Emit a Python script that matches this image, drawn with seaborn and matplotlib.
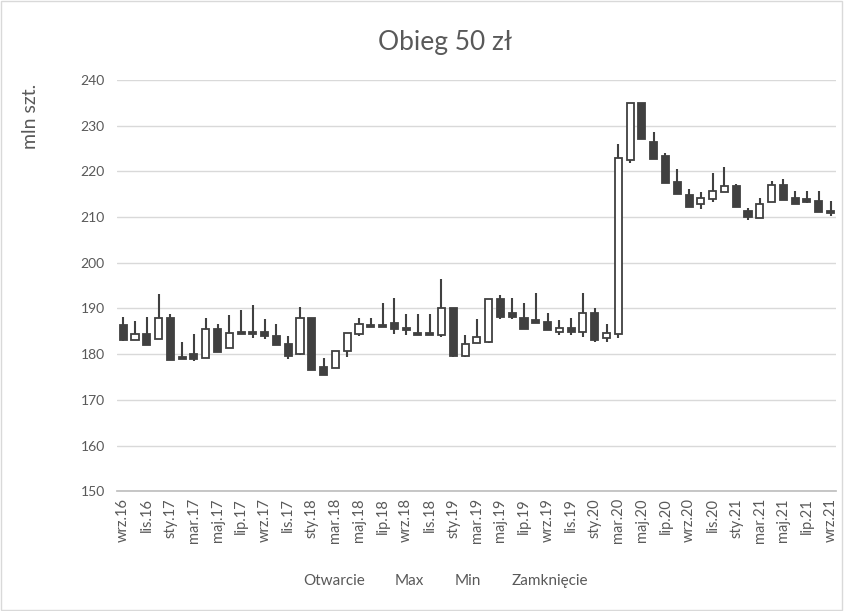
import numpy as np
import pandas as pd
import matplotlib.pyplot as plt
from matplotlib.lines import Line2D
from matplotlib.patches import Rectangle
import seaborn as sns

months = ['sty', 'lut', 'mar', 'kwi', 'maj', 'cze', 'lip', 'sie', 'wrz', 'paź', 'lis', 'gru']
labels = [f"{months[(8 + i) % 12]}.{16 + (8 + i) // 12}" for i in range(61)]

open_ = [186.4, 183.1, 184.4, 183.3, 188.0, 179.3, 180.1, 179.1, 185.5, 181.4,
         184.9, 184.9, 184.9, 184.0, 182.2, 180.0, 188.0, 177.3, 176.9, 180.7,
         184.4, 186.4, 186.4, 186.9, 185.8, 184.7, 184.7, 184.2, 190.2, 179.6,
         182.4, 182.6, 192.1, 189.0, 188.0, 187.5, 187.1, 184.9, 185.7, 184.9,
         189.1, 183.6, 184.5, 222.5, 234.9, 226.5, 223.4, 217.7, 214.9, 212.9,
         213.9, 215.4, 216.9, 211.4, 209.8, 213.3, 217.0, 214.2, 213.9, 213.6,
         211.4]
high = [188.2, 187.3, 188.2, 193.1, 188.7, 182.7, 184.5, 188.0, 186.5, 188.5,
        189.7, 190.7, 187.8, 186.7, 184.0, 190.4, 188.0, 179.1, 180.7, 184.7,
        188.0, 188.0, 191.3, 192.3, 188.9, 188.8, 188.9, 196.4, 190.2, 184.2,
        187.6, 192.1, 193.0, 192.4, 191.2, 193.4, 189.1, 187.4, 188.0, 193.4,
        190.1, 186.7, 226.0, 234.9, 234.9, 228.7, 224.1, 220.5, 216.1, 215.5,
        219.7, 220.9, 217.2, 212.0, 214.2, 218.0, 218.3, 215.7, 215.8, 215.7,
        213.6]
low = [182.8, 183.0, 182.0, 183.3, 178.8, 179.0, 178.5, 179.1, 180.5, 181.4,
       184.4, 183.6, 183.4, 182.0, 178.9, 179.8, 176.6, 175.4, 176.9, 179.3,
       184.0, 186.0, 186.0, 184.5, 184.2, 184.2, 184.2, 183.8, 179.3, 179.3,
       182.4, 182.4, 187.8, 187.6, 185.6, 186.9, 185.2, 184.3, 184.3, 183.8,
       182.6, 182.6, 183.5, 221.9, 227.1, 222.8, 217.5, 215.0, 212.2, 211.8,
       213.4, 215.4, 212.3, 209.3, 209.8, 213.3, 213.8, 212.8, 213.0, 211.2,
       210.2]
close = [183.0, 184.4, 182.0, 188.0, 178.8, 179.0, 178.9, 185.5, 180.5, 184.7,
         184.4, 184.4, 183.9, 182.0, 179.6, 188.0, 176.6, 175.4, 180.7, 184.7,
         186.6, 186.0, 186.0, 185.5, 185.3, 184.2, 184.2, 190.2, 179.6, 182.3,
         183.8, 192.1, 188.2, 188.2, 185.6, 186.9, 185.2, 185.7, 184.9, 189.0,
         183.2, 184.6, 223.0, 234.9, 227.1, 222.8, 217.5, 215.0, 212.2, 214.2,
         215.8, 216.7, 212.3, 210.0, 212.8, 217.0, 213.8, 212.8, 213.4, 211.2,
         211.0]

df = pd.DataFrame({'label': labels, 'open': open_, 'high': high, 'low': low, 'close': close})
df['x'] = np.arange(len(df))
df['bottom'] = df[['open', 'close']].min(axis=1)
df['height'] = (df['close'] - df['open']).abs().clip(lower=0.35)
df['up'] = df['close'] >= df['open']

sns.set_theme(style="white")
plt.rcParams['font.family'] = ['Lato', 'DejaVu Sans']
txt = '#595959'
dark = '#404040'

fig = plt.figure(figsize=(8.44, 6.11), dpi=100)
ax = fig.add_axes([0.139, 0.196, 0.852, 0.673])

# knoty, potem korpusy
ax.vlines(df['x'], df['low'], df['high'], color=dark, linewidth=1.5, zorder=2)
ax.bar(df['x'], df['height'], bottom=df['bottom'], width=0.6,
       color=np.where(df['up'], 'white', dark), edgecolor=dark, linewidth=1.3, zorder=3)

ax.set_xlim(-0.5, len(df) - 0.5)
ax.set_ylim(150, 240)
ax.set_yticks(range(150, 241, 10))
ax.yaxis.grid(True, color='#d9d9d9', linewidth=1)
ax.set_axisbelow(True)
ax.tick_params(axis='y', length=0, labelsize=10, labelcolor=txt, pad=9)

ax.set_xticks(df['x'][::2])
ax.set_xticklabels(df['label'][::2], rotation=90, fontsize=10.5, color=txt)
ax.set_xticks(np.arange(-0.5, len(df), 2), minor=True)
ax.tick_params(axis='x', which='major', length=0, pad=5)
ax.tick_params(axis='x', which='minor', length=5, color='#bfbfbf', width=1)

for s in ['top', 'right', 'left']:
    ax.spines[s].set_visible(False)
ax.spines['bottom'].set_color('#bfbfbf')

fig.text(0.527, 0.931, 'Obieg 50 zł', ha='center', va='center', fontsize=19, color=txt)
fig.text(0.036, 0.81, 'mln szt.', rotation=90, ha='center', va='center', fontsize=14, color=txt)

handles = [Line2D([], [], linestyle='none') for _ in range(4)]
fig.legend(handles, ['Otwarcie', 'Max', 'Min', 'Zamknięcie'], loc='center',
           bbox_to_anchor=(0.528, 0.049), ncol=4, frameon=False, handlelength=0,
           handletextpad=0, columnspacing=2.0, fontsize=11, labelcolor=txt)

fig.add_artist(Rectangle((0.001, 0.001), 0.997, 0.997, transform=fig.transFigure,
                         fill=False, edgecolor='#d9d9d9', linewidth=1))

fig.savefig('out.png', dpi=100, facecolor='white')
